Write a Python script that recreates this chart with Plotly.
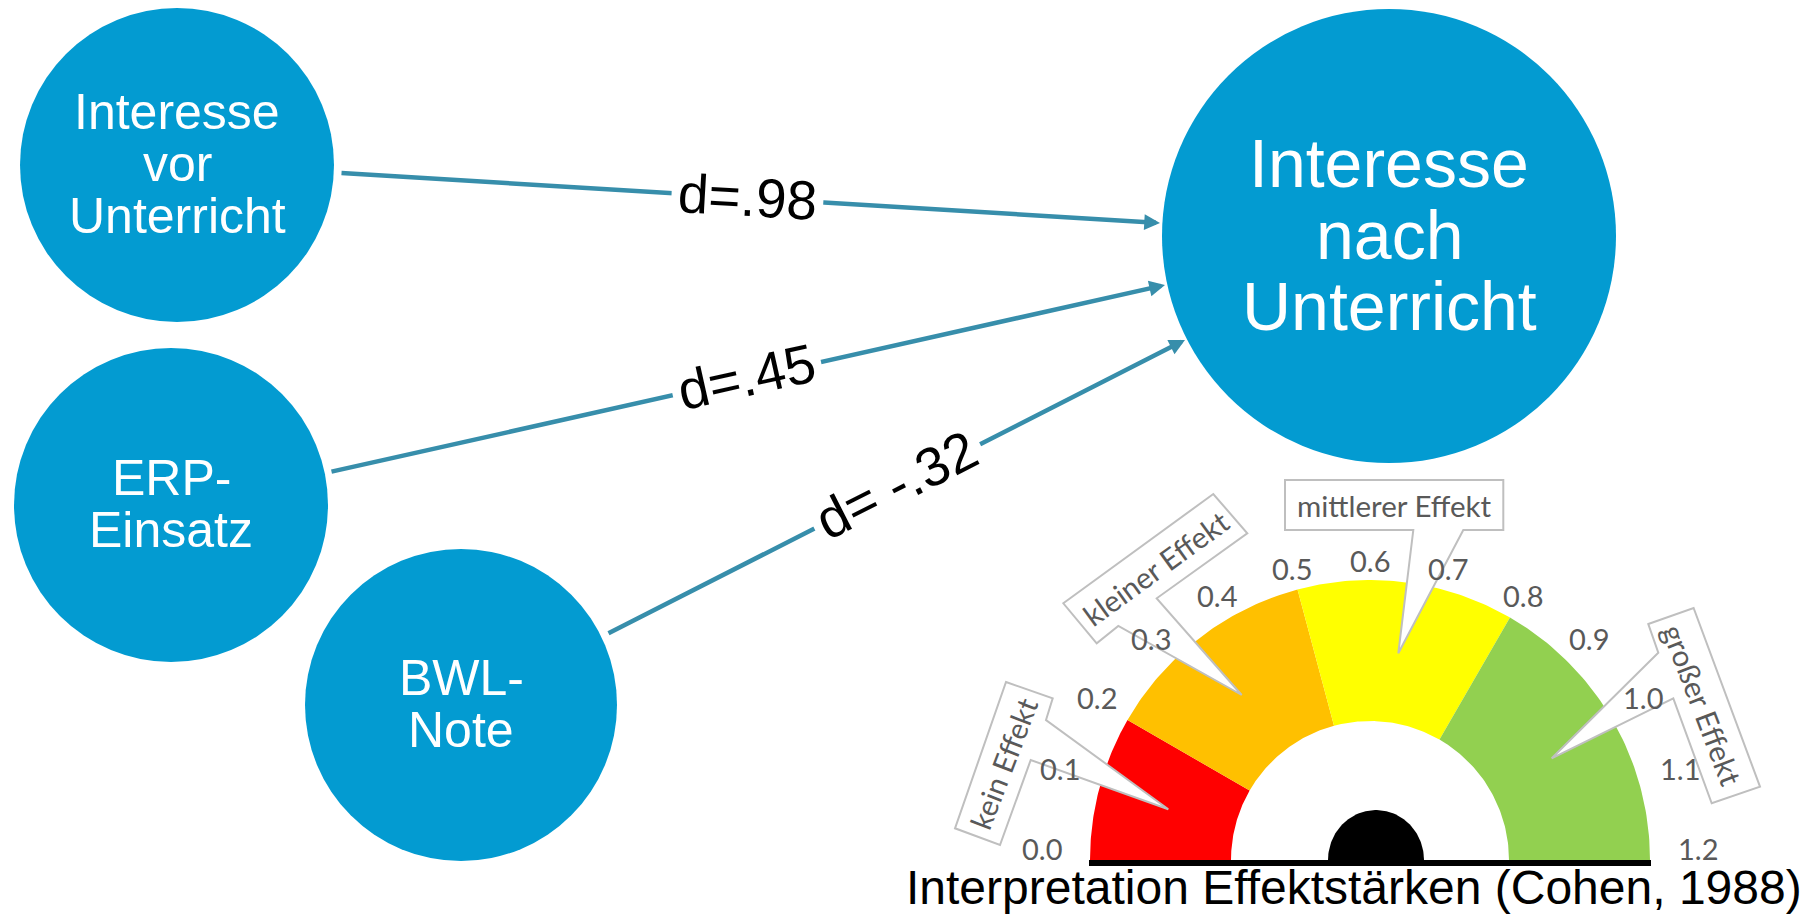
import numpy as np
import plotly.graph_objects as go

# ---------------- data ----------------
node_labels = ["Interesse\nvor\nUnterricht", "ERP-\nEinsatz", "BWL-\nNote", "Interesse\nnach\nUnterricht"]
effect_values = [0.98, 0.45, -0.32]
effect_labels = ["d=.98", "d=.45", "d= -.32"]
gauge_bounds = [0.0, 0.2, 0.5, 0.8, 1.2]
gauge_colors = ["#FF0000", "#FFC000", "#FFFF00", "#92D050"]
gauge_ticks = [0.0, 0.1, 0.2, 0.3, 0.4, 0.5, 0.6, 0.7, 0.8, 0.9, 1.0, 1.1, 1.2]
gauge_tick_labels = ["0.0", "0.1", "0.2", "0.3", "0.4", "0.5", "0.6", "0.7", "0.8", "0.9", "1.0", "1.1", "1.2"]
effect_categories = ["kein Effekt", "kleiner Effekt", "mittlerer Effekt", "großer Effekt"]
caption = "Interpretation Effektstärken (Cohen, 1988)"

# ---------------- layout geometry (pixels) ----------------
W, H = 1808, 914
NODE_COLOR = "#039BD1"
ARROW_COLOR = "#378EAB"
FONT = "Liberation Sans, Arial, sans-serif"
GFONT = "Lato, Open Sans, sans-serif"
GRAY = "#595959"

nodes = [
    dict(cx=177, cy=165, r=157, fs=50, sp=52),
    dict(cx=171, cy=505, r=157, fs=50, sp=52),
    dict(cx=461, cy=705, r=156, fs=50, sp=52),
    dict(cx=1389, cy=236, r=227, fs=68, sp=71.5),
]
arrows = [
    dict(tail=(340, 173), tip=(1160, 223), lab=(747, 197), ang=3.3),
    dict(tail=(330, 472), tip=(1165, 285), lab=(746, 377), ang=-12.6),
    dict(tail=(607, 634), tip=(1185, 340), lab=(896, 485), ang=-27),
]
gauge = dict(cx=1370, cy=860, R=280, r=139, hub_cx=1376, hub_r=48, xl=1089, xr=1651, bar_y=863)
callouts = [
    dict(pts=[(1006, 682), (1052.7, 698.3), (1046, 720), (1168.3, 809.3), (1030.7, 760), (1000, 845), (955, 828.3)],
         txt=(1003, 763), ang=-69),
    dict(pts=[(1063.3, 603.3), (1213.3, 494), (1247.3, 533.3), (1156.7, 598.3), (1241.7, 695), (1118.3, 626), (1096.7, 643.3)],
         txt=(1155, 568), ang=-36),
    dict(pts=[(1285, 480), (1503.3, 480), (1503.3, 530), (1463.3, 530), (1398.3, 653.3), (1413.3, 530), (1285, 530)],
         txt=(1394, 505), ang=0),
    dict(pts=[(1648.3, 624), (1693.6, 608), (1760, 786.7), (1711.7, 803.3), (1673.3, 698.3), (1551.7, 758.3), (1658.3, 652.7)],
         txt=(1703, 705), ang=69),
]

fig = go.Figure()
shapes = []
annotations = []

# ---------------- nodes ----------------
for lab, n in zip(node_labels, nodes):
    shapes.append(dict(type="circle", xref="x", yref="y", layer="below",
                       x0=n["cx"] - n["r"], x1=n["cx"] + n["r"],
                       y0=n["cy"] - n["r"], y1=n["cy"] + n["r"],
                       fillcolor=NODE_COLOR, line=dict(width=0)))
    lines = lab.split("\n")
    k = len(lines)
    for i, ln in enumerate(lines):
        y = n["cy"] + (i - (k - 1) / 2) * n["sp"] - 1.5
        annotations.append(dict(x=n["cx"], y=y, xref="x", yref="y", text=ln, showarrow=False,
                                xanchor="center", yanchor="middle",
                                font=dict(family=FONT, size=n["fs"], color="white")))

# ---------------- arrows + effect labels ----------------
for lab, a in zip(effect_labels, arrows):
    annotations.append(dict(x=a["tip"][0], y=a["tip"][1], ax=a["tail"][0], ay=a["tail"][1],
                            xref="x", yref="y", axref="x", ayref="y", text="",
                            showarrow=True, arrowhead=2, arrowsize=0.7, arrowwidth=4.5,
                            arrowcolor=ARROW_COLOR, standoff=0))
for lab, a in zip(effect_labels, arrows):
    annotations.append(dict(x=a["lab"][0], y=a["lab"][1], xref="x", yref="y", text=lab,
                            showarrow=False, textangle=a["ang"], bgcolor="white", borderpad=6,
                            xanchor="center", yanchor="middle",
                            font=dict(family=FONT, size=55, color="black")))

# ---------------- gauge ----------------
g = gauge
vmax = gauge_bounds[-1]
def ang(v):
    return np.pi * (1 - v / vmax)

for v0, v1, col in zip(gauge_bounds[:-1], gauge_bounds[1:], gauge_colors):
    t = np.linspace(ang(v0), ang(v1), 60)
    xo = g["cx"] + g["R"] * np.cos(t)
    yo = g["cy"] - g["R"] * np.sin(t)
    xi = g["cx"] + g["r"] * np.cos(t[::-1])
    yi = g["cy"] - g["r"] * np.sin(t[::-1])
    fig.add_trace(go.Scatter(x=np.concatenate([xo, xi, xo[:1]]), y=np.concatenate([yo, yi, yo[:1]]),
                             mode="lines", fill="toself", fillcolor=col, line=dict(width=0, color=col),
                             hoverinfo="skip", showlegend=False))

th = np.linspace(0, np.pi, 80)
fig.add_trace(go.Scatter(x=g["hub_cx"] + g["hub_r"] * np.cos(th), y=g["cy"] - g["hub_r"] * 1.04 * np.sin(th),
                         mode="lines", fill="toself", fillcolor="black", line=dict(width=0, color="black"),
                         hoverinfo="skip", showlegend=False))
shapes.append(dict(type="line", xref="x", yref="y", x0=g["xl"], x1=g["xr"], y0=g["bar_y"], y1=g["bar_y"],
                   line=dict(color="black", width=6), layer="above"))

# tick labels
for v, lab in zip(gauge_ticks, gauge_tick_labels):
    t = ang(v)
    s = np.sin(t)
    rr = 302 + 26 * (1 - s)
    x = g["cx"] + rr * np.cos(t)
    y = g["cy"] + 2 - rr * s - 14 * (1 - s)
    annotations.append(dict(x=x, y=y, xref="x", yref="y", text=lab, showarrow=False,
                            xanchor="center", yanchor="middle",
                            font=dict(family=GFONT, size=29, color=GRAY)))

# callouts
for lab, c in zip(effect_categories, callouts):
    p = c["pts"]
    path = "M " + " L ".join(f"{x},{y}" for x, y in p) + " Z"
    shapes.append(dict(type="path", xref="x", yref="y", path=path, fillcolor="white",
                       line=dict(color="#BFBFBF", width=2), layer="above"))
    annotations.append(dict(x=c["txt"][0], y=c["txt"][1], xref="x", yref="y", text=lab,
                            showarrow=False, textangle=c["ang"], xanchor="center", yanchor="middle",
                            font=dict(family=GFONT, size=29.5, color=GRAY)))

# caption
annotations.append(dict(x=1354, y=887, xref="x", yref="y", text=caption, showarrow=False,
                        xanchor="center", yanchor="middle",
                        font=dict(family=FONT, size=48, color="black")))

fig.update_layout(
    width=W, height=H, autosize=False,
    margin=dict(l=0, r=0, t=0, b=0, pad=0),
    paper_bgcolor="white", plot_bgcolor="white",
    xaxis=dict(range=[0, W], visible=False, fixedrange=True),
    yaxis=dict(range=[H, 0], visible=False, fixedrange=True),
    shapes=shapes, annotations=annotations, showlegend=False,
)
fig.write_html("out.html")
